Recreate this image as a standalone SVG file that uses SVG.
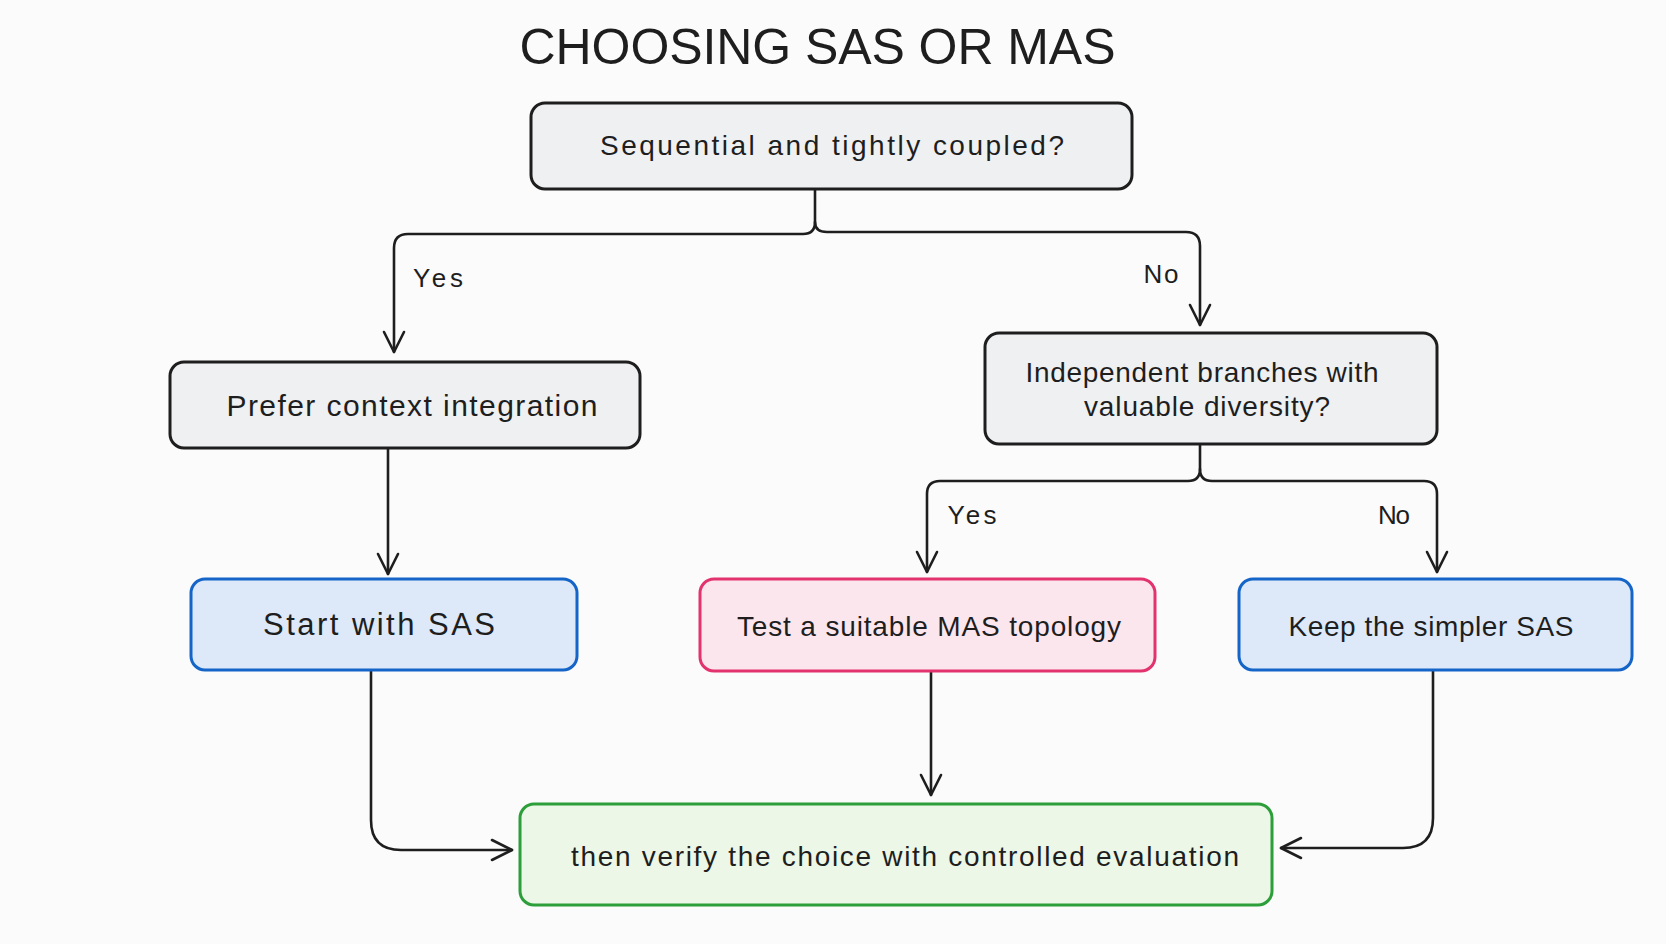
<svg xmlns="http://www.w3.org/2000/svg" width="1666" height="944" viewBox="0 0 1666 944">
<defs>
<marker id="arr" viewBox="0 0 24 24" refX="22" refY="12" markerWidth="24" markerHeight="24" markerUnits="userSpaceOnUse" orient="auto">
<path d="M2,2 L22,12 L2,22" fill="none" stroke="#1e1e1e" stroke-width="2.6" stroke-linecap="round" stroke-linejoin="round"/>
</marker>
<style>
text{font-family:"Liberation Sans",Arial,sans-serif;fill:#1e1e1e;text-anchor:middle}
.t{font-size:28px}
.lbl{font-size:26px}
.title{font-size:50px;letter-spacing:1px}
.box{stroke-width:3;rx:14;ry:14}
.grey{fill:#eff0f2;stroke:#1e1e1e}
.blue{fill:#dde9f8;stroke:#1565c8}
.pink{fill:#fce6ee;stroke:#e2336e}
.green{fill:#ecf7e7;stroke:#2c9e3a}
.c{fill:none;stroke:#1e1e1e;stroke-width:2.6;stroke-linecap:round;stroke-linejoin:round}
</style>
</defs>
<rect width="1666" height="944" fill="#fbfbfb"/>
<text class="title" x="818" y="64" textLength="597">CHOOSING SAS OR MAS</text>

<g id="connectors">
<path class="c" d="M815 189 V222 Q815 234 803 234 H408 Q394 234 394 248 V352" marker-end="url(#arr)"/>
<path class="c" d="M815 222 Q815 232 827 232 H1186 Q1200 232 1200 246 V325" marker-end="url(#arr)"/>
<path class="c" d="M388 448 V574" marker-end="url(#arr)"/>
<path class="c" d="M1200 444 V469 Q1200 481 1188 481 H940 Q927 481 927 494 V572" marker-end="url(#arr)"/>
<path class="c" d="M1200 469 Q1200 481 1212 481 H1424 Q1437 481 1437 494 V572" marker-end="url(#arr)"/>
<path class="c" d="M371 670 V820 Q371 850 401 850 H512" marker-end="url(#arr)"/>
<path class="c" d="M931 671 V795" marker-end="url(#arr)"/>
<path class="c" d="M1433 670 V818 Q1433 848 1403 848 H1281" marker-end="url(#arr)"/>
<text class="lbl" x="438" y="287" textLength="50">Yes</text>
<text class="lbl" x="1161" y="283" textLength="35">No</text>
<text class="lbl" x="972" y="524" textLength="49">Yes</text>
<text class="lbl" x="1394" y="524" textLength="32">No</text>
</g>

<g id="q1">
<rect class="box grey" x="531" y="103" width="601" height="86"/>
<text class="t" x="832" y="155" textLength="464">Sequential and tightly coupled?</text>
</g>
<g id="prefer">
<rect class="box grey" x="170" y="362" width="470" height="86"/>
<text class="t" x="412" y="416" style="font-size:30px" textLength="371">Prefer context integration</text>
</g>
<g id="q2">
<rect class="box grey" x="985" y="333" width="452" height="111"/>
<text class="t" x="1202" y="382" textLength="353">Independent branches with</text>
<text class="t" x="1207" y="416" textLength="246">valuable diversity?</text>
</g>
<g id="start">
<rect class="box blue" x="191" y="579" width="386" height="91"/>
<text class="t" x="379" y="635" style="font-size:31px" textLength="232">Start with SAS</text>
</g>
<g id="test">
<rect class="box pink" x="700" y="579" width="455" height="92"/>
<text class="t" x="929" y="636" textLength="384">Test a suitable MAS topology</text>
</g>
<g id="keep">
<rect class="box blue" x="1239" y="579" width="393" height="91"/>
<text class="t" x="1431" y="636" textLength="285">Keep the simpler SAS</text>
</g>
<g id="verify">
<rect class="box green" x="520" y="804" width="752" height="101"/>
<text class="t" x="905" y="866" textLength="668">then verify the choice with controlled evaluation</text>
</g>
</svg>
